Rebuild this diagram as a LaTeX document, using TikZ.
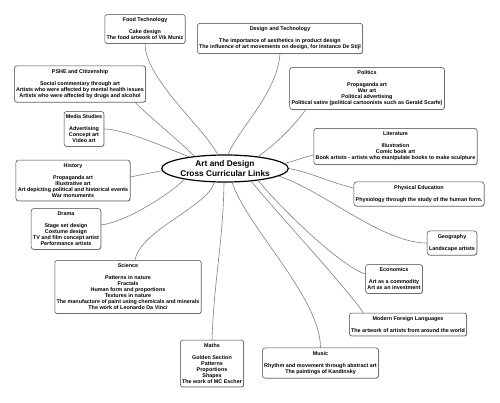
\documentclass[tikz,border=0pt]{standalone}
\usepackage{fontspec}
\setmainfont{Liberation Sans}
\usetikzlibrary{shapes.geometric,shadows}
\begin{document}
\begin{tikzpicture}[x=1pt,y=-1pt,
  topic/.style={draw=black!75, line width=0.5pt, rounded corners=2.5pt, fill=white,
    align=center, inner xsep=1.8pt, inner ysep=3.5pt,
    font=\fontsize{5.4}{6}\selectfont\bfseries,
    drop shadow={shadow xshift=0.5pt, shadow yshift=-0.5pt, fill=black!35, opacity=1}},
  hub/.style={draw, ellipse, line width=1.2pt, fill=white, inner sep=0pt,
    minimum width=126pt, minimum height=27pt, align=center,
    font=\fontsize{8.3}{10}\selectfont\bfseries},
  link/.style={draw=black!50, line width=0.6pt}]
\useasboundingbox (0,0) rectangle (500,402);
\node[hub] (title) at (225,168.5) {Art and Design\\Cross Curricular Links};
\node[topic] (food) at (145,29) {Food Technology\\[6pt]Cake design\\The food artwork of Vik Muniz};
\node[topic] (dt) at (280,38.5) {Design and Technology\\[6pt]The importance of aesthetics in product design\\The influence of art movements on design, for instance De Stijl};
\node[topic] (pshe) at (80,84) {PSHE and Citizenship\\[6pt]Social commentary through art\\Artists who were affected by mental health issues\\Artists who were affected by drugs and alcohol};
\node[topic] (media) at (84,129) {Media Studies\\[6pt]Advertising\\Concept art\\Video art};
\node[topic] (politics) at (367,88.5) {Politics\\[6pt]Propaganda art\\War art\\Political advertising\\Political satire (political cartoonists such as Gerald Scarfe)};
\node[topic] (literature) at (395.5,146.5) {Literature\\[6pt]Illustration\\Comic book art\\Book artists - artists who manipulate books to make sculpture};
\node[topic] (history) at (73,180.5) {History\\[6pt]Propaganda art\\Illustrative art\\Art depicting political and historical events\\War monuments};
\node[topic] (drama) at (66,229) {Drama\\[6pt]Stage set design\\Costume design\\TV and film concept artist\\Performance artists};
\node[topic] (science) at (128,287) {Science\\[6pt]Patterns in nature\\Fractals\\Human form and proportions\\Textures in nature\\The manufacture of paint using chemicals and minerals\\The work of Leonardo Da Vinci};
\node[topic] (maths) at (212,363.5) {Maths\\[6pt]Golden Section\\Patterns\\Proportions\\Shapes\\The work of MC Escher};
\node[topic] (music) at (320.5,363) {Music\\[6pt]Rhythm and movement through abstract art\\The paintings of Kandinsky};
\node[topic] (mfl) at (408,324.5) {Modern Foreign Languages\\[6pt]The artwork of artists from around the world};
\node[topic] (econ) at (394,279) {Economics\\[6pt]Art as a commodity\\Art as an investment};
\node[topic] (geog) at (452,243) {Geography\\[6pt]Landscape artists};
\node[topic] (pe) at (419,194) {Physical Education\\[6pt]Physiology through the study of the human form.};
% links from the centre
\path[link] (food.south) .. controls +(0,35) and +(-12,-25) .. (title.118);
\path[link] (dt.south) .. controls +(-3,40) and +(10,-25) .. (title.78);
\path[link] ([xshift=-11pt]pshe.south east) .. controls +(15,15) and +(-15,-15) .. (title.158);
\path[link] (media.east) .. controls +(20,0) and +(-20,-8) .. (title.162);
\path[link] ([xshift=16pt]politics.south west) .. controls +(-10,15) and +(15,-10) .. (title.20);
\path[link] ([yshift=-8.5pt]literature.west) .. controls +(-10,2) and +(10,-2) .. (title.5);
\path[link] (title.0) .. controls +(25,5) and +(-25,-6) .. ([yshift=6pt]pe.west);
\path[link] (title.352) .. controls +(45,15) and +(-45,0) .. (geog.west);
\path[link] (title.340) .. controls +(25,30) and +(-25,-8) .. ([yshift=5pt]econ.west);
\path[link] (title.334) .. controls +(20,25) and +(-12,-20) .. ([xshift=14pt]mfl.north west);
\path[link] (title.297) .. controls +(15,45) and +(0,-50) .. (music.north);
\path[link] (title.266) .. controls +(-1,60) and +(2,-60) .. (maths.north);
\path[link] (title.233) .. controls +(-8,25) and +(5,-30) .. ([xshift=7pt]science.north);
\path[link] (title.195) .. controls +(-15,15) and +(25,-3) .. ([yshift=4pt]drama.east);
\path[link] (title.182) -- ([yshift=3.5pt]history.east);
\end{tikzpicture}
\end{document}
